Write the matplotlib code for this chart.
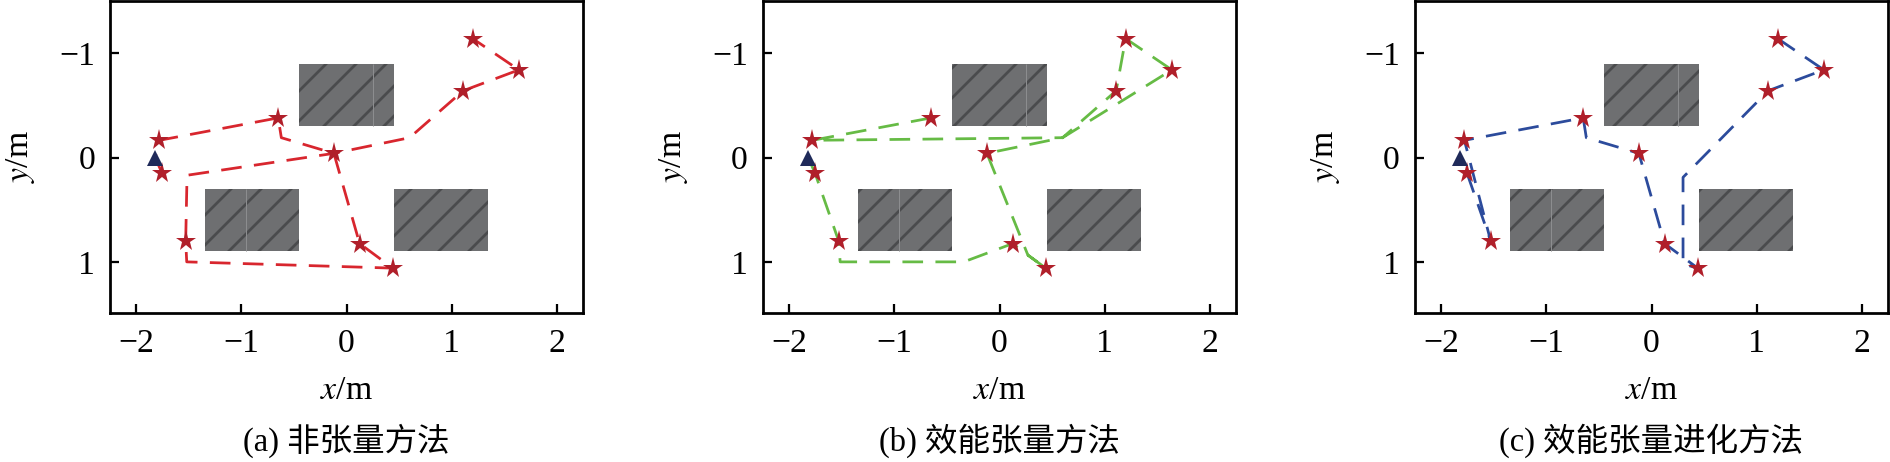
import matplotlib
matplotlib.use("Agg")
import matplotlib.pyplot as plt
from matplotlib.patches import Rectangle

plt.rcParams['font.family'] = ['Liberation Serif', 'Noto Sans CJK SC', 'DejaVu Sans']
plt.rcParams['mathtext.fontset'] = 'stix'
plt.rcParams['hatch.color'] = '#4a4b4d'
plt.rcParams['hatch.linewidth'] = 1.1

# targets (stars) and start point (triangle)
star_x = [-1.78, -1.755, -0.65, -0.12, 1.11, 1.20, 1.64, -1.53, 0.125, 0.44]
star_y = [-0.165, 0.15, -0.38, -0.04, -0.64, -1.14, -0.84, 0.80, 0.825, 1.06]
start_x = [-1.82]
start_y = [0.0]

# obstacles: (x0, y0, width, height)
obstacles = [(-0.45, -0.9, 0.9, 0.6), (-1.35, 0.3, 0.9, 0.6), (0.45, 0.3, 0.9, 0.6)]
seams_x = [0.25, -0.96]
seams_y0 = [-0.9, 0.3]
seams_y1 = [-0.3, 0.9]

# paths
path_a_x = [-1.755, -1.82, -1.78, -0.65, -0.62, -0.12, 0.125, 0.44, -1.52, -1.53, -1.517, -0.12, 0.60, 1.11, 1.64, 1.20]
path_a_y = [0.15, 0.0, -0.165, -0.38, -0.19, -0.04, 0.825, 1.06, 1.0, 0.80, 0.17, -0.04, -0.19, -0.64, -0.84, -1.14]

path_b_x = [-0.65, -1.78, 0.60, 1.11, 1.20, 1.64, 0.60, -0.12, 0.27, 0.44, 0.27, 0.125, -0.34, -1.516, -1.53, -1.755, -1.82]
path_b_y = [-0.38, -0.165, -0.19, -0.64, -1.14, -0.84, -0.19, -0.04, 0.935, 1.06, 0.935, 0.825, 1.0, 1.0, 0.80, 0.15, 0.0]

path_c_x = [1.20, 1.64, 1.11, 0.30, 0.30, 0.44, 0.125, -0.12, -0.62, -0.65, -1.78, -1.53, -1.755, -1.82]
path_c_y = [-1.14, -0.84, -0.64, 0.19, 1.02, 1.06, 0.825, -0.04, -0.19, -0.38, -0.165, 0.80, 0.15, 0.0]

paths = [(path_a_x, path_a_y), (path_b_x, path_b_y), (path_c_x, path_c_y)]
line_colors = ['#d8262e', '#66bb45', '#2c4b9c']
captions = ['(a) 非张量方法', '(b) 效能张量方法', '(c) 效能张量进化方法']
lefts = [110, 763, 1415]

W, H = 1890, 462
fig = plt.figure(figsize=(W / 180, H / 180), dpi=180)

for k in range(3):
    ax = fig.add_axes([lefts[k] / W, (H - 313) / H, 473 / W, 312 / H])
    ax.set_xlim(-2.25, 2.25)
    ax.set_ylim(1.49, -1.5)

    for (x0, y0, w, h) in obstacles:
        ax.add_patch(Rectangle((x0, y0), w, h, facecolor='#6e6f71', lw=0, hatch='//', zorder=1))
    ax.vlines(seams_x, seams_y0, seams_y1, color='#8c8d8f', lw=0.4, zorder=1.5)

    px, py = paths[k]
    ax.plot(px, py, color=line_colors[k], lw=1.1, linestyle=(0, (7.5, 4.5)), zorder=2)
    ax.plot(star_x, star_y, '*', color='#b01f2a', ms=8.5, mew=0, zorder=3)
    ax.plot(start_x, start_y, '^', color='#1f2a5a', ms=6.5, mew=0, zorder=3)

    ax.set_xticks([-2, -1, 0, 1, 2])
    ax.set_yticks([-1, 0, 1])
    ax.tick_params(direction='in', length=3.6, width=0.9, labelsize=13.5, pad=6,
                   top=False, right=False)
    for s in ax.spines.values():
        s.set_linewidth(1.1)

    ax.text(0.5, -0.25, '$x$/m', transform=ax.transAxes, ha='center', va='center', fontsize=13.5)
    ax.text(-0.19, 0.5, '$y$/m', transform=ax.transAxes, ha='center', va='center',
            rotation=90, fontsize=13.5)
    ax.text(0.5, -0.41, captions[k], transform=ax.transAxes, ha='center', va='center', fontsize=13)

fig.savefig('out.png', dpi=180)
